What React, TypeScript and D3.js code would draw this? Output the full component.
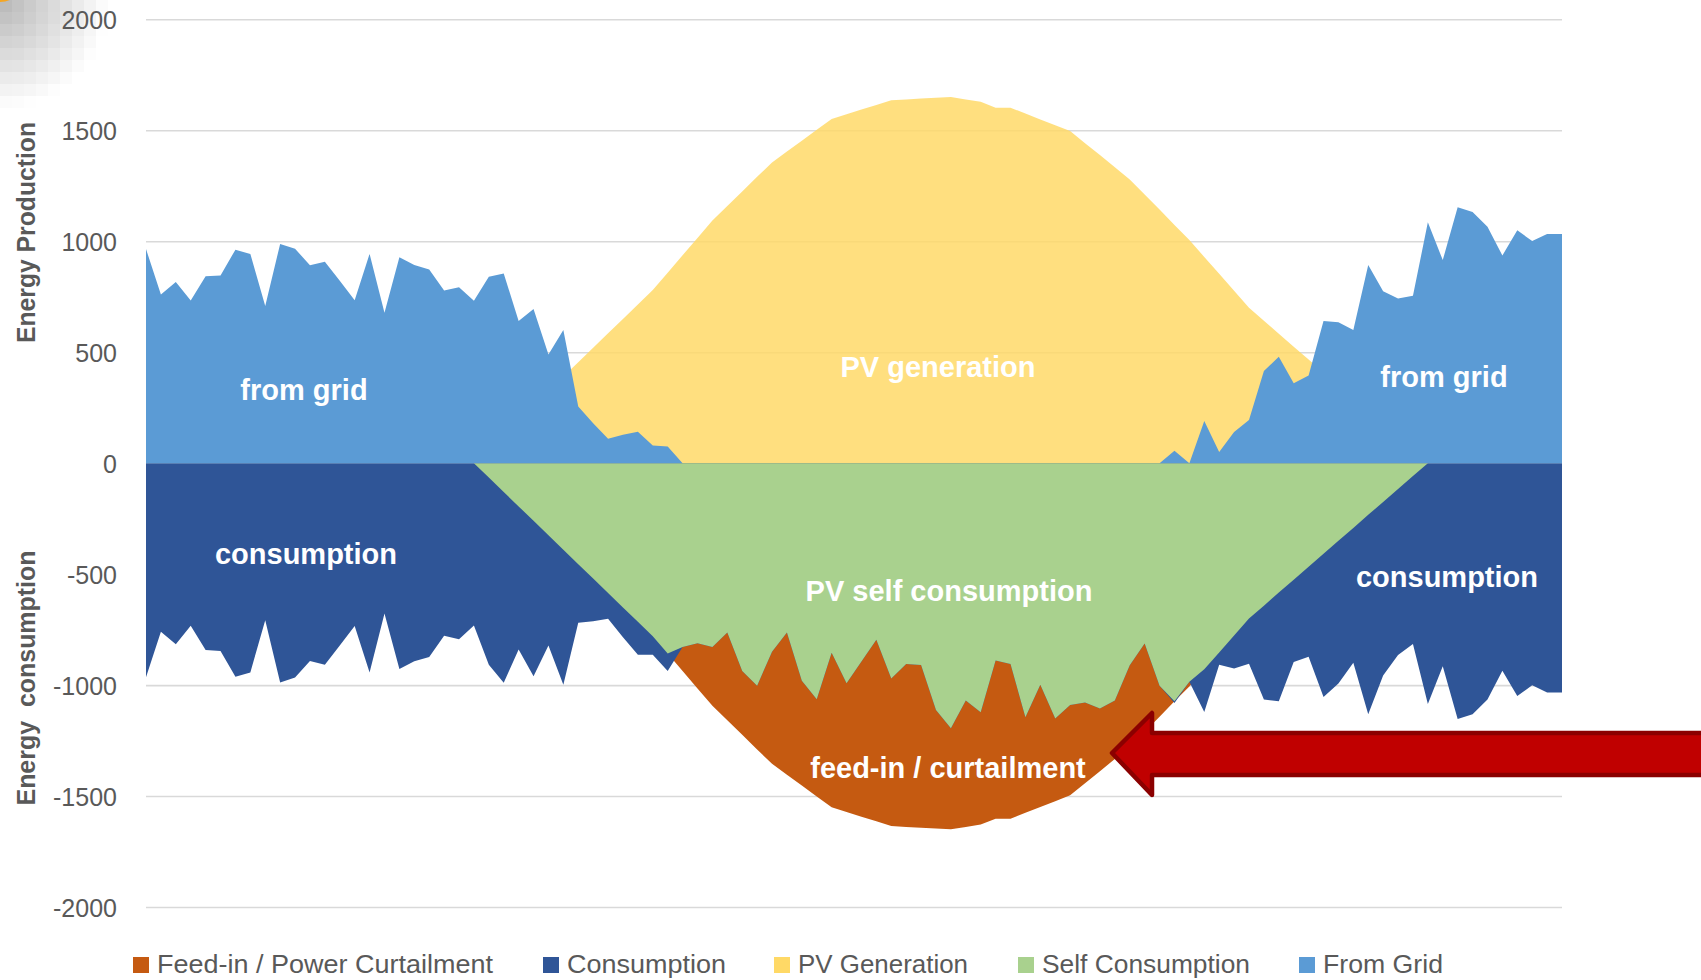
import React, { useEffect, useRef } from "react";
import * as d3 from "d3";

// 96 quarter-hour readings over one day
const consumption = [
  -965, -760, -816, -733, -842, -846, -962, -943, -708, -988,
  -966, -892, -908, -822, -734, -943, -678, -928, -893, -873,
  -778, -793, -732, -908, -990, -840, -960, -822, -998, -719,
  -712, -701, -784, -863, -863, -937, -828, -811, -828, -763,
  -937, -1003, -850, -763, -981, -1064, -854, -992, -894, -796,
  -970, -905, -909, -1112, -1195, -1069, -1123, -889, -905, -1145,
  -998, -1151, -1090, -1079, -1105, -1069, -911, -813, -1003, -1081,
  -985, -1121, -908, -925, -904, -1065, -1073, -896, -872, -1054,
  -993, -899, -1132, -957, -864, -815, -1085, -915, -1153, -1132,
  -1065, -936, -1049, -1001, -1033, -1033,
];

const pvGeneration = [
  0, 0, 0, 0, 0, 0, 0, 0, 0, 0,
  0, 0, 0, 0, 0, 0, 0, 0, 0, 0,
  0, 0, 0, 65, 130, 195, 260, 325, 390, 455,
  520, 585, 650, 715, 780, 858, 937, 1015, 1093, 1159,
  1224, 1290, 1355, 1404, 1453, 1502, 1551, 1572, 1593, 1614,
  1635, 1639, 1643, 1646, 1650, 1639, 1628, 1602, 1602, 1575,
  1549, 1523, 1497, 1442, 1388, 1333, 1278, 1210, 1143, 1073,
  1006, 929, 853, 777, 700, 642, 583, 525, 467, 408,
  350, 292, 233, 175, 117, 58, 0, 0, 0, 0,
  0, 0, 0, 0, 0, 0,
];

const feedIn = [
  0, 0, 0, 0, 0, 0, 0, 0, 0, 0,
  0, 0, 0, 0, 0, 0, 0, 0, 0, 0,
  0, 0, 0, -65, -130, -195, -260, -325, -390, -455,
  -520, -585, -650, -715, -780, -858, -937, -1015, -1093, -1159,
  -1224, -1290, -1355, -1404, -1453, -1502, -1551, -1572, -1593, -1614,
  -1635, -1639, -1643, -1646, -1650, -1639, -1628, -1602, -1602, -1575,
  -1549, -1523, -1497, -1442, -1388, -1333, -1278, -1210, -1143, -1073,
  -1006, -929, -853, -777, -700, -642, -583, -525, -467, -408,
  -350, -292, -233, -175, -117, -58, 0, 0, 0, 0,
  0, 0, 0, 0, 0, 0,
];

const selfConsumption = [
  0, 0, 0, 0, 0, 0, 0, 0, 0, 0,
  0, 0, 0, 0, 0, 0, 0, 0, 0, 0,
  0, 0, 0, -65, -130, -195, -260, -325, -390, -455,
  -520, -585, -650, -715, -780, -858, -828, -811, -828, -763,
  -937, -1003, -850, -763, -981, -1064, -854, -992, -894, -796,
  -970, -905, -909, -1112, -1195, -1069, -1123, -889, -905, -1145,
  -998, -1151, -1090, -1079, -1105, -1069, -911, -813, -1003, -1073,
  -985, -929, -853, -777, -700, -642, -583, -525, -467, -408,
  -350, -292, -233, -175, -117, -58, 0, 0, 0, 0,
  0, 0, 0, 0, 0, 0,
];

const fromGrid = [
  965, 760, 816, 733, 842, 846, 962, 943, 708, 988,
  966, 892, 908, 822, 734, 943, 678, 928, 893, 873,
  778, 793, 732, 840, 855, 640, 695, 490, 600, 255,
  180, 110, 128, 142, 80, 75, 0, 0, 0, 0,
  0, 0, 0, 0, 0, 0, 0, 0, 0, 0,
  0, 0, 0, 0, 0, 0, 0, 0, 0, 0,
  0, 0, 0, 0, 0, 0, 0, 0, 0, 56,
  0, 190, 50, 140, 195, 415, 480, 360, 395, 640,
  635, 600, 893, 775, 742, 754, 1085, 915, 1153, 1132,
  1065, 936, 1049, 1001, 1033, 1033,
];

const yTicks = [2000, 1500, 1000, 500, 0, -500, -1000, -1500, -2000];

const legendLabels = [
  "Feed-in / Power Curtailment",
  "Consumption",
  "PV Generation",
  "Self Consumption",
  "From Grid",
];

const areaLabels = [
  "from grid",
  "PV generation",
  "from grid",
  "consumption",
  "PV self consumption",
  "consumption",
  "feed-in / curtailment",
];

const EnergyChart = () => {
  const ref = useRef<SVGSVGElement>(null);

  useEffect(() => {
    const width = 1701;
    const height = 980;
    const left = 146;
    const right = 1562;
    const font = "'Liberation Sans', Arial, sans-serif";
    const grey = "#595959";

    const svg = d3.select(ref.current);
    svg.selectAll("*").remove();
    svg.attr("width", width).attr("height", height).attr("viewBox", [0, 0, width, height]);

    // faded mosaic in the top-left corner
    const deco = svg.append("g");
    for (let r = 0; r < 10; r++) {
      for (let c = 0; c < 10; c++) {
        const d = Math.hypot(c * 12 + 6, r * 12 + 6) / 108;
        if (d >= 1) continue;
        const g = Math.round(182 + 73 * d);
        deco
          .append("rect")
          .attr("x", c * 12)
          .attr("y", r * 12)
          .attr("width", 12)
          .attr("height", 12)
          .attr("fill", `rgb(${g},${g},${g})`);
      }
    }
    deco.append("ellipse").attr("cx", 0).attr("cy", -9).attr("rx", 17).attr("ry", 11).attr("fill", "#F5A623");

    const n = consumption.length;
    const x = d3.scaleLinear([0, n - 1], [left, right]);
    const y = d3.scaleLinear([-2000, 2000], [907, 19.3]);

    // gridlines
    svg
      .append("g")
      .attr("transform", `translate(${left},0)`)
      .call(d3.axisLeft(y).tickValues(yTicks).tickSize(-(right - left)).tickFormat(() => ""))
      .call((g) => g.select(".domain").remove())
      .call((g) => g.selectAll(".tick line").attr("stroke", "#D9D9D9").attr("stroke-width", 1.6));

    // tick labels
    svg
      .append("g")
      .attr("transform", `translate(${left},0)`)
      .call(d3.axisLeft(y).tickValues(yTicks).tickSize(0).tickPadding(29).tickFormat((d) => String(d)))
      .call((g) => g.select(".domain").remove())
      .call((g) =>
        g
          .selectAll("text")
          .attr("font-family", font)
          .attr("font-size", 25)
          .attr("fill", grey)
          .attr("dy", "0.36em")
      );

    const area = d3
      .area<number>()
      .x((d, i) => x(i))
      .y0(y(0))
      .y1((d) => y(d));

    const layers = [
      { values: feedIn, color: "#C55A11", opacity: 1 },
      { values: consumption, color: "#2F5597", opacity: 1 },
      { values: pvGeneration, color: "#FFD966", opacity: 0.84 },
      { values: selfConsumption, color: "#A9D18E", opacity: 1 },
      { values: fromGrid, color: "#5B9BD5", opacity: 1 },
    ];

    svg
      .append("g")
      .selectAll("path")
      .data(layers)
      .join("path")
      .attr("d", (d) => area(d.values))
      .attr("fill", (d) => d.color)
      .attr("fill-opacity", (d) => d.opacity);

    // white labels inside the areas
    const labelPos = [
      [304, 400],
      [938, 377],
      [1444, 387],
      [306, 564],
      [949, 601],
      [1447, 587],
      [948, 778],
    ];
    svg
      .append("g")
      .selectAll("text")
      .data(areaLabels)
      .join("text")
      .attr("x", (d, i) => labelPos[i][0])
      .attr("y", (d, i) => labelPos[i][1])
      .attr("text-anchor", "middle")
      .attr("font-family", font)
      .attr("font-weight", "bold")
      .attr("font-size", 29)
      .attr("fill", "#FFFFFF")
      .text((d) => d);

    // axis titles
    const titles = [
      { text: "Energy Production", cy: 232.5, len: 221 },
      { text: "Energy\u00A0\u00A0consumption", cy: 678, len: 255 },
    ];
    svg
      .append("g")
      .selectAll("text")
      .data(titles)
      .join("text")
      .attr("transform", (d) => `translate(35,${d.cy}) rotate(-90)`)
      .attr("text-anchor", "middle")
      .attr("font-family", font)
      .attr("font-weight", "bold")
      .attr("font-size", 25)
      .attr("fill", grey)
      .attr("textLength", (d) => d.len)
      .attr("lengthAdjust", "spacingAndGlyphs")
      .text((d) => d.text);

    // legend
    const legendColors = ["#C55A11", "#2F5597", "#FFD966", "#A9D18E", "#5B9BD5"];
    const legendX = [133, 543, 774, 1018, 1299];
    const legendLen = [336, 159, 170, 208, 120];
    const legend = svg
      .append("g")
      .selectAll("g")
      .data(legendLabels)
      .join("g")
      .attr("transform", (d, i) => `translate(${legendX[i]},957)`);
    legend
      .append("rect")
      .attr("width", 16)
      .attr("height", 16)
      .attr("fill", (d, i) => legendColors[i]);
    legend
      .append("text")
      .attr("x", 24)
      .attr("y", 16)
      .attr("font-family", font)
      .attr("font-size", 25)
      .attr("fill", grey)
      .attr("textLength", (d, i) => legendLen[i])
      .attr("lengthAdjust", "spacingAndGlyphs")
      .text((d) => d);

    // red arrow pointing at the feed-in area
    const arrow = d3.path();
    arrow.moveTo(1112, 753);
    arrow.lineTo(1152, 713);
    arrow.lineTo(1152, 733);
    arrow.lineTo(1710, 733);
    arrow.lineTo(1710, 775);
    arrow.lineTo(1152, 775);
    arrow.lineTo(1152, 795);
    arrow.closePath();
    svg
      .append("path")
      .attr("d", arrow.toString())
      .attr("fill", "#C00000")
      .attr("stroke", "#8B0000")
      .attr("stroke-width", 4.5)
      .attr("stroke-linejoin", "round");
  }, []);

  return <svg ref={ref} style={{ position: "absolute", left: 0, top: 0, display: "block" }}></svg>;
};

export default function App() {
  return <EnergyChart />;
}
